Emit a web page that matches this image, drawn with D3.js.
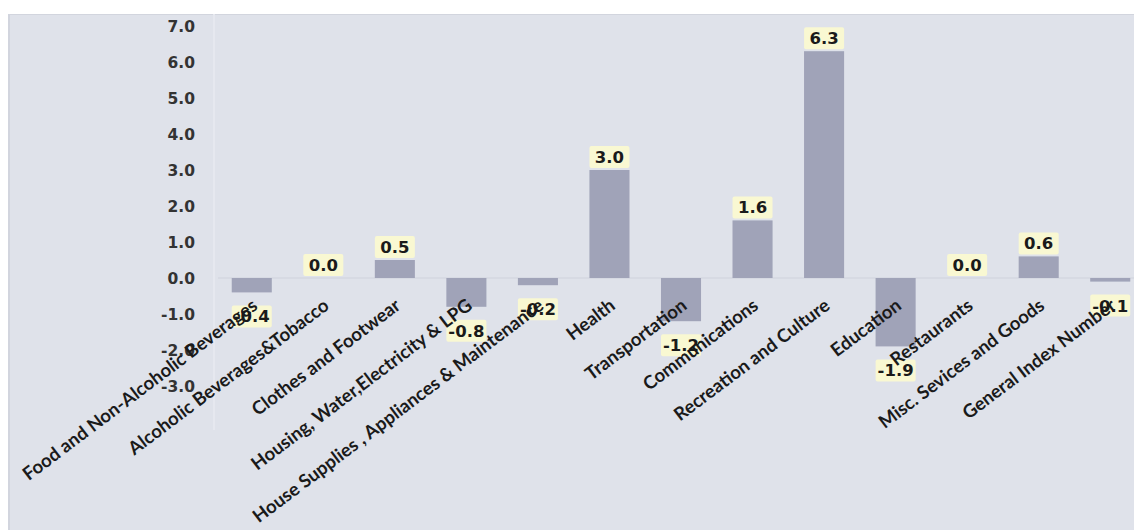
<!DOCTYPE html>
<html><head><meta charset="utf-8">
<script src="https://cdn.jsdelivr.net/npm/d3@7"></script>
<style>html,body{margin:0;padding:0;background:#fff;overflow:hidden}</style>
</head><body>
<svg id="c" width="1134" height="530"></svg>
<script>
const categories = ["Food and Non-Alcoholic Beverages","Alcoholic Beverages&Tobacco","Clothes and Footwear","Housing, Water,Electricity & LPG","House Supplies , Appliances & Maintenance","Health","Transportation","Communications","Recreation and Culture","Education","Restaurants","Misc. Sevices and Goods","General Index Number"];
const values = [-0.4, 0.0, 0.5, -0.8, -0.2, 3.0, -1.2, 1.6, 6.3, -1.9, 0.0, 0.6, -0.1];
const yTicks = [7,6,5,4,3,2,1,0,-1,-2,-3];

const fmt = v => d3.format(".1f")(v).replace("\u2212","-");

const svg = d3.select("#c");
svg.append("rect").attr("x",8).attr("y",14).attr("width",1126).attr("height",516).attr("fill","#dfe2ea");
svg.append("line").attr("x1",8).attr("x2",1134).attr("y1",14.5).attr("y2",14.5).attr("stroke","#d2d5de");
svg.append("line").attr("x1",9).attr("x2",9).attr("y1",14).attr("y2",530).attr("stroke","#d2d5de").attr("stroke-width",2);

const x = d3.scaleBand().domain(categories).range([216,1146]).paddingInner(0.44).paddingOuter(0.22);
const y = d3.scaleLinear().domain([-3,7]).range([386,26]);

// faint plot-area edge
svg.append("line").attr("x1",214).attr("x2",214).attr("y1",14).attr("y2",430).attr("stroke","#e6e8ef").attr("stroke-width",2);

// zero line
svg.append("line").attr("x1",218).attr("x2",1134).attr("y1",y(0)).attr("y2",y(0)).attr("stroke","#cfd2db").attr("stroke-width",1.2);

// y axis
const yAxis = d3.axisLeft(y).tickValues(yTicks).tickFormat(fmt).tickSize(0).tickPadding(0);
const ga = svg.append("g").attr("transform","translate(195,0)").call(yAxis);
ga.select(".domain").remove();
ga.selectAll("text").attr("font-family","DejaVu Sans").attr("font-weight","bold").attr("font-size",15.5).attr("fill","#333").attr("dy","0.36em");

// bars
svg.selectAll("rect.bar").data(values).enter().append("rect").attr("class","bar")
  .attr("x",(d,i)=>x(categories[i]))
  .attr("width",x.bandwidth())
  .attr("y",d=>y(Math.max(0,d)))
  .attr("height",d=>Math.abs(y(d)-y(0)))
  .attr("fill","#a0a3b8");

// data labels
const lbl = svg.selectAll("g.lbl").data(values).enter().append("g").attr("class","lbl")
  .attr("transform",(d,i)=>{
    const cx = x(categories[i]) + x.bandwidth()/2;
    const cy = d >= 0 ? y(d) - 13 : y(d) + 24;
    return `translate(${cx},${cy})`;
  });
lbl.append("rect").attr("x",-20).attr("y",-11).attr("width",40).attr("height",22).attr("rx",2).attr("fill","#f9f8d2");
lbl.append("text").text(d=>fmt(d)).attr("text-anchor","middle").attr("dy","0.36em")
  .attr("font-family","DejaVu Sans").attr("font-weight","bold").attr("font-size",16.5).attr("fill","#1a1a1a");

// category labels
const xAxis = d3.axisBottom(x).tickSize(0).tickPadding(0);
const gx = svg.append("g").attr("transform","translate(0,308)").call(xAxis);
gx.select(".domain").remove();
gx.selectAll("text")
  .attr("font-family","Lato").attr("font-weight","bold").attr("font-size",18.5).attr("fill","#1a1a1a")
  .attr("text-anchor","end").attr("dy",0).attr("y",0).attr("x",0)
  .attr("transform","translate(7,0) rotate(-37)");
</script>
</body></html>
